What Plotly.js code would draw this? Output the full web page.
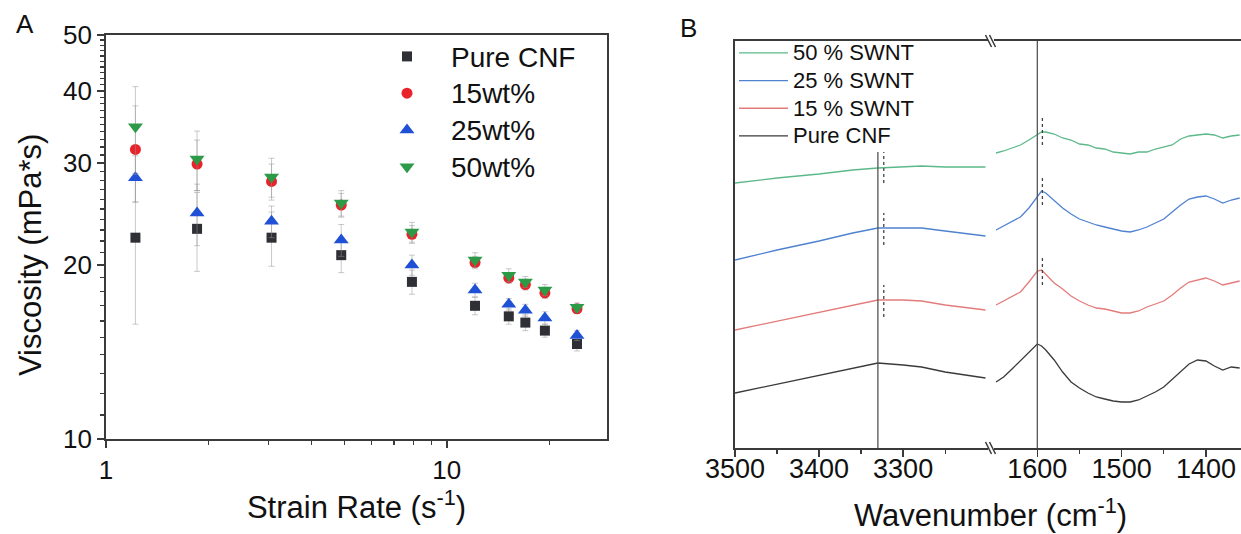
<!DOCTYPE html>
<html>
<head>
<meta charset="utf-8">
<script src="https://cdn.plot.ly/plotly-3.0.1.min.js"></script>
<style>html,body{margin:0;padding:0;background:#fff;}#chart{width:1241px;height:534px;}</style>
</head>
<body>
<div id="chart"></div>
<script>
// ---------- Panel A data ----------
const strainRate = [1.22, 1.85, 3.06, 4.9, 7.9, 12.1, 15.2, 17.0, 19.4, 24.1];
const viscPure = [22.3, 23.1, 22.3, 20.8, 18.7, 17.0, 16.3, 15.9, 15.4, 14.6];
const visc15 = [31.7, 29.9, 27.9, 25.4, 22.6, 20.2, 19.0, 18.5, 17.9, 16.8];
const visc25 = [28.3, 24.6, 23.8, 22.1, 20.0, 18.1, 17.1, 16.7, 16.2, 15.1];
const visc50 = [34.7, 30.5, 28.4, 25.6, 22.8, 20.4, 19.2, 18.7, 18.1, 16.9];
const errPure = [6.5, 3.6, 2.4, 1.4, 0.9, 0.6, 0.5, 0.5, 0.4, 0.4];
const err15 = [6.0, 3.0, 2.0, 1.2, 0.8, 0.5, 0.4, 0.4, 0.4, 0.3];
const err25 = [2.6, 3.0, 1.5, 1.4, 0.8, 0.5, 0.4, 0.4, 0.4, 0.3];
const err50 = [6.0, 3.6, 2.2, 1.3, 0.9, 0.6, 0.5, 0.4, 0.4, 0.3];
const seriesNamesA = ['Pure CNF', '15wt%', '25wt%', '50wt%'];
const xTickValsA = [1, 10];
const xMinorA = [2, 3, 4, 5, 6, 7, 8, 9, 20];
const yTickValsA = [10, 20, 30, 40, 50];
const yMinorA = [11,12,13,14,15,16,17,18,19,21,22,23,24,25,26,27,28,29,31,32,33,34,35,36,37,38,39,41,42,43,44,45,46,47,48,49];

// ---------- Panel B data (arbitrary intensity, offset stacked) ----------
const wnHigh = [3500, 3450, 3400, 3360, 3330, 3300, 3278, 3250, 3202];
const irHighPure = [55, 64, 73, 80, 85, 83, 81, 76, 70];
const irHigh15 = [118, 127, 136, 143, 148, 148, 147, 143, 138];
const irHigh25 = [188, 198, 207, 215, 220, 220, 220, 217, 212];
const irHigh50 = [265, 270, 274, 278, 280, 281, 282, 281, 281];

const wnLow = [1649,1640,1630,1620,1610,1600,1595,1590,1580,1570,1560,1550,1540,1530,1520,1510,1500,1490,1480,1470,1460,1450,1440,1430,1420,1410,1400,1390,1380,1370,1360];
const irLow50 = [295,297,300,303,308,313,316,316,314,310,308,304,303,300,299,296,295,294,296,296,299,301,303,309,312,313,314,313,310,312,313];
const irLow25 = [218,222,226,231,240,252,257,255,247,240,234,229,226,223,221,219,217,216,218,221,225,229,236,243,249,251,252,249,245,248,250];
const irLow15 = [143,147,151,156,166,177,178,174,165,159,152,147,143,140,139,137,135,135,137,141,144,147,153,160,166,168,170,167,163,165,167];
const irLowPure = [66,71,79,87,96,104,102,98,88,76,66,60,55,51,49,47,46,46,48,52,56,61,69,77,84,88,87,82,78,81,80];

const seriesNamesB = ['50 % SWNT', '25 % SWNT', '15 % SWNT', 'Pure CNF'];
const xTickHigh = [3500, 3400, 3300];
const xMinorHigh = [3450, 3350, 3250];
const xTickLow = [1600, 1500, 1400];
const xMinorLow = [1550, 1450];
// reference lines (peak positions) and shift markers
const peakOH = 3330, peakOHtop = 296;
const peakCC = 1600, peakCCtop = 407;
const shiftOH = 3323;
const shiftOHspans = [[265, 296], [203, 235], [131, 163]];
const shiftCC = 1594;
const shiftCCspans = [[303, 333], [243, 273], [163, 193]];

// ---------- styles ----------
const FONT = 'Liberation Sans, Arial, sans-serif';
const AX = '#3a3a3a';
const colA = ['#2f2f36', '#e8232b', '#1f50d6', '#2d9a48'];
const symA = ['square', 'circle', 'triangle-up', 'triangle-down'];
const sizeA = [10, 11, 13, 13];
const colB = {p50: '#5db98a', p25: '#4f82cf', p15: '#e37b7b', pure: '#3a3a3a'};

const W = 1241, H = 534;
const px = v => v / W;
const py = v => 1 - v / H;
const big = (t, s) => '<span style="font-size:' + s + 'px">' + t + '</span>';

const traces = [];
const viscSets = [viscPure, visc15, visc25, visc50];
const errSets = [errPure, err15, err25, err50];
for (let i = 0; i < 4; i++) {
  traces.push({
    x: strainRate, y: viscSets[i], name: big(seriesNamesA[i], 28), type: 'scatter', mode: 'markers',
    xaxis: 'x', yaxis: 'y', legend: 'legend',
    marker: {symbol: symA[i], size: sizeA[i], color: colA[i], line: {width: 0}},
    error_y: {type: 'data', array: errSets[i], visible: true, color: 'rgba(150,150,150,0.5)', thickness: 1, width: 3}
  });
}

const highSets = [irHigh50, irHigh25, irHigh15, irHighPure];
const lowSets = [irLow50, irLow25, irLow15, irLowPure];
const colsB = [colB.p50, colB.p25, colB.p15, colB.pure];
for (let i = 0; i < 4; i++) {
  traces.push({
    x: wnHigh, y: highSets[i], name: big(seriesNamesB[i], 22), type: 'scatter', mode: 'lines',
    xaxis: 'x3', yaxis: 'y3', legend: 'legend2', legendgroup: 'b' + i,
    line: {color: colsB[i], width: 1.3}
  });
  traces.push({
    x: wnLow, y: lowSets[i], name: seriesNamesB[i], type: 'scatter', mode: 'lines',
    xaxis: 'x4', yaxis: 'y3', legendgroup: 'b' + i, showlegend: false,
    line: {color: colsB[i], width: 1.3}
  });
}
// peak reference lines
traces.push({x: [peakOH, peakOH], y: [0, peakOHtop], xaxis: 'x3', yaxis: 'y3', mode: 'lines', showlegend: false, hoverinfo: 'skip', line: {color: '#555', width: 1.3}});
traces.push({x: [peakCC, peakCC], y: [0, peakCCtop], xaxis: 'x4', yaxis: 'y3', mode: 'lines', showlegend: false, hoverinfo: 'skip', line: {color: '#555', width: 1.3}});
// shift markers (dashed)
function dashed(xv, spans, xa) {
  const xs = [], ys = [];
  spans.forEach(s => { xs.push(xv, xv, null); ys.push(s[0], s[1], null); });
  return {x: xs, y: ys, xaxis: xa, yaxis: 'y3', mode: 'lines', showlegend: false, hoverinfo: 'skip', connectgaps: false, line: {color: '#444', width: 1.3, dash: '3px,3px'}};
}
traces.push(dashed(shiftOH, shiftOHspans, 'x3'));
traces.push(dashed(shiftCC, shiftCCspans, 'x4'));

const tickfont = {family: FONT, size: 26, color: '#111'};
const baseAxis = {showgrid: false, zeroline: false, showline: true, linecolor: AX, linewidth: 1.8, ticks: 'outside', ticklen: 7, tickwidth: 1.5, tickcolor: AX, tickfont: tickfont};

// break marks
const shapes = [];
const bx = 988.5;
[41, 448].forEach(yy => {
  [0, 4].forEach(dx => {
    shapes.push({type: 'line', xref: 'paper', yref: 'paper', x0: px(bx - 3 + dx), y0: py(yy - 6), x1: px(bx + 3 + dx), y1: py(yy + 6), line: {color: AX, width: 1.5}});
  });
});

const layout = {
  width: W, height: H,
  margin: {l: 0, r: 0, t: 0, b: 0},
  paper_bgcolor: '#fff', plot_bgcolor: '#fff',
  font: {family: FONT, color: '#111'},
  showlegend: true,
  xaxis: Object.assign({}, baseAxis, {
    type: 'log', range: [0, 1.47], domain: [px(106), px(607)], anchor: 'y', mirror: true,
    tickmode: 'array', tickvals: xTickValsA, ticktext: xTickValsA.map(String),
    minor: {tickmode: 'array', tickvals: xMinorA, ticks: 'outside', ticklen: 4, tickwidth: 1.2, tickcolor: AX, showgrid: false},
    title: {text: 'Strain Rate (s<sup>-1</sup>)', font: {family: FONT, size: 31, color: '#111'}, standoff: 10}
  }),
  yaxis: Object.assign({}, baseAxis, {
    type: 'log', range: [1, Math.log10(50)], domain: [py(439), py(35)], anchor: 'x', mirror: true,
    tickmode: 'array', tickvals: yTickValsA, ticktext: yTickValsA.map(String),
    minor: {tickmode: 'array', tickvals: yMinorA, ticks: 'outside', ticklen: 4, tickwidth: 1.2, tickcolor: AX, showgrid: false}
  }),
  xaxis3: Object.assign({}, baseAxis, {
    range: [3500, 3199], domain: [px(735), px(988)], anchor: 'y3', mirror: true,
    tickmode: 'array', tickvals: xTickHigh, ticktext: xTickHigh.map(String),
    minor: {tickmode: 'array', tickvals: xMinorHigh, ticks: 'outside', ticklen: 4, tickwidth: 1.2, tickcolor: AX, showgrid: false},
    tickfont: {family: FONT, size: 27, color: '#111'}, ticklabelstandoff: -11
  }),
  xaxis4: Object.assign({}, baseAxis, {
    range: [1651.4, 1358.4], domain: [px(994), 1], anchor: 'y3', mirror: true,
    tickmode: 'array', tickvals: xTickLow, ticktext: xTickLow.map(String),
    minor: {tickmode: 'array', tickvals: xMinorLow, ticks: 'outside', ticklen: 4, tickwidth: 1.2, tickcolor: AX, showgrid: false},
    tickfont: {family: FONT, size: 27, color: '#111'}, ticklabelstandoff: -11
  }),
  yaxis3: {
    range: [0, 407], domain: [py(448), py(41)], anchor: 'x3',
    showgrid: false, zeroline: false, showline: true, linecolor: AX, linewidth: 1.8,
    ticks: '', showticklabels: false, mirror: false
  },
  legend: {
    x: px(363), y: py(33), xanchor: 'left', yanchor: 'top', itemwidth: 78,
    bgcolor: 'rgba(0,0,0,0)', borderwidth: 0,
    font: {family: FONT, size: 26, color: '#111'}, traceorder: 'normal'
  },
  legend2: {
    x: px(734), y: py(34), xanchor: 'left', yanchor: 'top',
    bgcolor: 'rgba(0,0,0,0)', borderwidth: 0, itemwidth: 49,
    font: {family: FONT, size: 19, color: '#111'}, traceorder: 'normal', tracegroupgap: 0
  },
  shapes: shapes,
  annotations: [
    {text: 'A', xref: 'paper', yref: 'paper', x: px(25), y: py(24), xanchor: 'center', yanchor: 'middle', showarrow: false, font: {family: FONT, size: 26, color: '#111'}},
    {text: 'B', xref: 'paper', yref: 'paper', x: px(688), y: py(28), xanchor: 'center', yanchor: 'middle', showarrow: false, font: {family: FONT, size: 26, color: '#111'}},
    {text: 'Viscosity (mPa*s)', xref: 'paper', yref: 'paper', x: px(31), y: py(255), xanchor: 'center', yanchor: 'middle', textangle: -90, showarrow: false, font: {family: FONT, size: 31, color: '#111'}},
    {text: 'Wavenumber (cm<sup>-1</sup>)', xref: 'paper', yref: 'paper', x: px(990), y: py(513), xanchor: 'center', yanchor: 'middle', showarrow: false, font: {family: FONT, size: 31, color: '#111'}}
  ]
};

Plotly.newPlot('chart', traces, layout, {displayModeBar: false, staticPlot: true});
</script>
</body>
</html>
